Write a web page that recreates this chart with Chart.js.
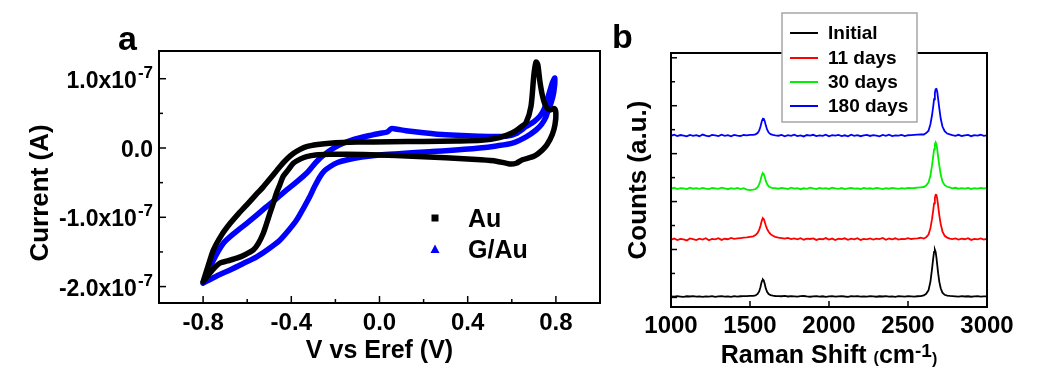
<!DOCTYPE html>
<html><head><meta charset="utf-8">
<script src="https://cdn.jsdelivr.net/npm/chart.js@4.4.0/dist/chart.umd.min.js"></script>
<style>
html,body{margin:0;padding:0;background:#fff;width:1050px;height:382px;overflow:hidden}
#ca{position:absolute;left:0;top:0}
#cb{position:absolute;left:604px;top:0}
</style></head><body>
<canvas id="ca" width="610" height="382"></canvas>
<canvas id="cb" width="446" height="382"></canvas>
<script>
// ---------- Panel a: cyclic voltammetry (current in units of 1e-7 A) ----------
const cvAuV = [-0.800,-0.775,-0.753,-0.715,-0.678,-0.640,-0.602,-0.565,-0.527,-0.490,-0.452,-0.420,-0.391,-0.360,-0.331,-0.280,-0.225,-0.100,0.050,0.200,0.350,0.460,0.544,0.603,0.640,0.665,0.687,0.700,0.710,0.718,0.727,0.740,0.755,0.775,0.793,0.800,0.796,0.784,0.760,0.738,0.700,0.648,0.620,0.590,0.530,0.460,0.300,0.150,0.000,-0.150,-0.225,-0.290,-0.331,-0.360,-0.391,-0.415,-0.437,-0.452,-0.467,-0.482,-0.497,-0.512,-0.527,-0.550,-0.572,-0.610,-0.647,-0.690,-0.723,-0.760,-0.800];
const cvAuI = [-1.93,-1.68,-1.47,-1.25,-1.09,-0.95,-0.82,-0.69,-0.56,-0.42,-0.27,-0.16,-0.08,-0.02,0.02,0.05,0.07,0.085,0.09,0.095,0.10,0.11,0.15,0.22,0.30,0.37,0.60,1.05,1.24,1.20,0.97,0.74,0.60,0.55,0.57,0.50,0.34,0.20,0.05,-0.03,-0.12,-0.17,-0.22,-0.23,-0.19,-0.17,-0.14,-0.12,-0.10,-0.09,-0.09,-0.10,-0.125,-0.16,-0.22,-0.32,-0.41,-0.53,-0.65,-0.80,-0.94,-1.09,-1.23,-1.38,-1.47,-1.54,-1.59,-1.63,-1.66,-1.77,-1.93];
const cvGAuV = [-0.800,-0.755,-0.708,-0.655,-0.602,-0.557,-0.512,-0.467,-0.421,-0.376,-0.331,-0.300,-0.270,-0.240,-0.210,-0.170,-0.120,-0.060,0.000,0.035,0.054,0.080,0.120,0.200,0.300,0.450,0.574,0.620,0.665,0.700,0.725,0.745,0.760,0.775,0.784,0.795,0.790,0.778,0.765,0.755,0.735,0.710,0.665,0.603,0.530,0.453,0.300,0.227,0.100,0.000,-0.080,-0.150,-0.190,-0.225,-0.250,-0.270,-0.295,-0.316,-0.345,-0.376,-0.410,-0.452,-0.505,-0.557,-0.620,-0.678,-0.740,-0.800];
const cvGAuI = [-1.95,-1.63,-1.375,-1.22,-1.087,-0.97,-0.847,-0.73,-0.606,-0.49,-0.365,-0.25,-0.149,-0.07,-0.004,0.06,0.12,0.17,0.21,0.23,0.28,0.27,0.25,0.22,0.19,0.17,0.17,0.21,0.31,0.38,0.45,0.55,0.69,0.85,0.94,1.01,0.80,0.65,0.55,0.45,0.34,0.26,0.16,0.07,0.03,0.00,-0.04,-0.053,-0.08,-0.10,-0.13,-0.173,-0.21,-0.27,-0.33,-0.414,-0.56,-0.70,-0.87,-1.04,-1.18,-1.33,-1.46,-1.57,-1.67,-1.76,-1.85,-1.95];
const cvXMajor = [-0.8,-0.4,0,0.4,0.8];
const cvXLabels = ['-0.8','-0.4','0.0','0.4','0.8'];
const cvXMinor = [-0.6,-0.2,0.2,0.6];
const cvYMajor = [1,0,-1,-2];
const cvYLabels = ['1.0x10','0.0','-1.0x10','-2.0x10'];
const cvYSup = ['-7','','-7','-7'];
const cvYMinor = [0.5,-0.5,-1.5];
const cvSeries = ['Au','G/Au'];

// ---------- Panel b: Raman spectra (offset counts) ----------
const ramanShift = [1000,1020,1040,1060,1080,1100,1120,1140,1160,1180,1200,1220,1240,1260,1280,1300,1320,1340,1360,1380,1400,1420,1440,1460,1480,1500,
 1520,1535,1548,1558,1566,1572,1577,1582,1587,1593,1600,1608,1618,1630,1645,1660,
 1680,1700,1720,1740,1760,1780,1800,1820,1840,1860,1880,1900,1920,1940,1960,1980,2000,2020,2040,2060,2080,2100,2120,2140,2160,2180,2200,2220,2240,2260,2280,2300,2320,2340,2360,2380,2400,2420,2440,2460,2480,2500,2520,2540,2560,2580,
 2600,2615,2630,2642,2652,2659,2665,2670,2675,2680,2685,2691,2698,2707,2718,2732,2748,2765,
 2780,2800,2820,2840,2860,2880,2900,2920,2940,2960,2980,3000];
const countsInitial = [22,14,25,18,12,24,19,27,15,21,10,23,17,26,13,20,28,16,22,11,25,18,24,27,29,32,
 33,41,72,125,212,300,352,370,352,286,188,118,72,48,38,30,
 28,24,31,19,26,22,17,25,29,20,14,23,27,18,24,12,21,26,16,23,28,19,13,25,20,27,15,22,18,26,21,14,24,19,28,17,23,12,25,20,16,27,22,18,24,26,
 40,75,150,330,590,800,950,996,950,830,680,500,330,190,100,55,38,30,
 28,22,17,25,19,24,14,21,26,18,23,20];
const countsDay11 = [1205,1228,1196,1222,1210,1189,1231,1215,1198,1226,1206,1234,1192,1220,1212,1236,1200,1224,1214,1240,1222,1230,1238,1246,1252,1265,
 1275,1300,1345,1410,1490,1570,1628,1650,1635,1580,1500,1430,1370,1320,1285,1262,
 1248,1236,1225,1240,1218,1230,1212,1235,1204,1226,1219,1232,1200,1222,1214,1238,1206,1228,1197,1224,1216,1233,1202,1227,1210,1236,1199,1221,1213,1230,1205,1225,1218,1240,1203,1229,1211,1234,1207,1223,1215,1237,1219,1228,1232,1245,
 1229,1257,1313,1445,1633,1802,1962,2075,2141,2136,2056,1906,1718,1530,1379,1285,1248,1229,
 1218,1232,1205,1226,1214,1236,1200,1222,1211,1230,1208,1225];
const countsDay30 = [2270,2288,2262,2281,2275,2259,2290,2268,2279,2264,2285,2271,2260,2283,2276,2266,2289,2273,2258,2280,2267,2284,2262,2278,2248,2238,
 2248,2262,2300,2360,2440,2520,2570,2590,2575,2520,2430,2365,2318,2295,2280,2282,
 2268,2285,2274,2262,2289,2271,2280,2258,2277,2266,2291,2273,2261,2284,2270,2279,2263,2288,2275,2267,2282,2259,2276,2286,2269,2274,2262,2283,2271,2278,2265,2287,2273,2261,2280,2268,2284,2276,2264,2281,2270,2286,2279,2283,2290,2298,
 2304,2333,2400,2544,2755,2928,3091,3197,3236,3197,3091,2928,2755,2563,2419,2342,2309,2294,
 2276,2288,2268,2281,2272,2285,2263,2279,2270,2284,2274,2280];
const countsDay180 = [3372,3395,3366,3388,3378,3360,3392,3370,3385,3364,3398,3375,3361,3390,3379,3367,3394,3373,3386,3362,3391,3376,3368,3389,3380,3392,
 3392,3402,3430,3480,3560,3640,3700,3730,3728,3680,3590,3505,3440,3405,3390,3382,
 3374,3391,3363,3384,3370,3396,3366,3381,3359,3388,3377,3393,3365,3382,3371,3397,3362,3386,3375,3390,3368,3383,3361,3394,3373,3387,3364,3380,3392,3369,3385,3376,3360,3389,3372,3395,3367,3382,3378,3391,3366,3384,3388,3393,3398,3402,
 3400,3429,3478,3615,3801,3968,4135,4262,4345,4350,4291,4135,3948,3733,3566,3468,3419,3400,
 3386,3372,3393,3368,3381,3390,3364,3385,3376,3394,3370,3383];
const ramanLabels = ['Initial','11 days','30 days','180 days'];
const ramanColors = ['#000000','#ff0000','#00f000','#0000ff'];
const ramanXMajor = [1000,1500,2000,2500,3000];
const ramanXLabels = ['1000','1500','2000','2500','3000'];
const ramanYMajor = [0,1000,2000,3000,4000,5000];
const ramanYMinor = [500,1500,2500,3500,4500];

// ---------- helpers ----------
const FONT = '"Liberation Sans", Arial, Helvetica, sans-serif';
const bf = px => 'bold ' + px + 'px ' + FONT;
function seg(ctx, x1, y1, x2, y2) { ctx.beginPath(); ctx.moveTo(x1, y1); ctx.lineTo(x2, y2); ctx.stroke(); }
const pts = (xs, ys) => xs.map((v, i) => ({ x: v, y: ys[i] }));

// ---------- Panel a chart ----------
const panelAPlugin = {
  id: 'panelA',
  afterDatasetsDraw(chart) {
    const ctx = chart.ctx, a = chart.chartArea, x = chart.scales.x, y = chart.scales.y;
    ctx.save();
    ctx.strokeStyle = '#000'; ctx.fillStyle = '#000';
    ctx.lineWidth = 2;
    ctx.strokeRect(a.left, a.top, a.right - a.left, a.bottom - a.top);
    ctx.lineWidth = 1.5;
    cvXMajor.forEach(v => { const p = x.getPixelForValue(v); seg(ctx, p, a.bottom, p, a.bottom - 7); });
    cvXMinor.forEach(v => { const p = x.getPixelForValue(v); seg(ctx, p, a.bottom, p, a.bottom - 4); });
    cvYMajor.forEach(v => { const p = y.getPixelForValue(v); seg(ctx, a.left, p, a.left + 7, p); });
    cvYMinor.forEach(v => { const p = y.getPixelForValue(v); seg(ctx, a.left, p, a.left + 4, p); });
    ctx.font = bf(24); ctx.textAlign = 'center'; ctx.textBaseline = 'alphabetic';
    cvXMajor.forEach((v, i) => ctx.fillText(cvXLabels[i], x.getPixelForValue(v), 330));
    const right = a.left - 6;
    cvYMajor.forEach((v, i) => {
      const p = y.getPixelForValue(v);
      let sw = 0;
      if (cvYSup[i]) { ctx.font = bf(17); sw = ctx.measureText(cvYSup[i]).width + 1; }
      ctx.font = bf(23); ctx.textAlign = 'right';
      ctx.fillText(cvYLabels[i], right - sw, p + 9);
      if (cvYSup[i]) { ctx.font = bf(17); ctx.textAlign = 'left'; ctx.fillText(cvYSup[i], right - sw + 1, p - 1); }
    });
    ctx.font = bf(25); ctx.textAlign = 'center';
    ctx.fillText('V vs Eref (V)', (a.left + a.right) / 2, 358);
    ctx.save(); ctx.translate(41, 193); ctx.rotate(-Math.PI / 2);
    ctx.font = bf(26); ctx.textBaseline = 'middle'; ctx.fillText('Current (A)', 0, 0); ctx.restore();
    ctx.font = bf(34); ctx.textAlign = 'left'; ctx.textBaseline = 'alphabetic';
    ctx.fillText('a', 118, 50);
    const ds = chart.data.datasets;
    ctx.fillStyle = ds[0].borderColor; ctx.fillRect(431.5, 214.5, 7, 7);
    ctx.fillStyle = ds[1].borderColor; ctx.beginPath(); ctx.moveTo(435, 244.5); ctx.lineTo(439.5, 253); ctx.lineTo(430.5, 253); ctx.closePath(); ctx.fill();
    ctx.fillStyle = '#000'; ctx.font = bf(25); ctx.textAlign = 'left';
    ctx.fillText(ds[0].label, 468, 227);
    ctx.fillText(ds[1].label, 468, 258);
    ctx.restore();
  }
};

new Chart(document.getElementById('ca'), {
  type: 'scatter',
  data: {
    datasets: [
      { label: cvSeries[0], data: pts(cvAuV, cvAuI), showLine: true, borderColor: '#000000', backgroundColor: '#000000', borderWidth: 5.5, pointRadius: 0, tension: 0.25, borderJoinStyle: 'round', borderCapStyle: 'round' },
      { label: cvSeries[1], data: pts(cvGAuV, cvGAuI), showLine: true, borderColor: '#0000ff', backgroundColor: '#0000ff', borderWidth: 5.5, pointRadius: 0, tension: 0.25, borderJoinStyle: 'round', borderCapStyle: 'round' }
    ]
  },
  options: {
    responsive: false, animation: false, events: [],
    layout: { padding: { left: 159, right: 10, top: 51, bottom: 79 } },
    scales: {
      x: { type: 'linear', min: -1.0, max: 1.0, display: false },
      y: { type: 'linear', min: -2.237, max: 1.40, display: false }
    },
    plugins: { legend: { display: false }, tooltip: { enabled: false } }
  },
  plugins: [panelAPlugin]
});

// ---------- Panel b chart ----------
const panelBPlugin = {
  id: 'panelB',
  afterDatasetsDraw(chart) {
    const ctx = chart.ctx, a = chart.chartArea, x = chart.scales.x, y = chart.scales.y;
    ctx.save();
    ctx.strokeStyle = '#000'; ctx.fillStyle = '#000';
    ctx.lineWidth = 2;
    ctx.strokeRect(a.left, a.top, a.right - a.left, a.bottom - a.top);
    ctx.lineWidth = 1.5;
    ramanXMajor.forEach(v => { const p = x.getPixelForValue(v); seg(ctx, p, a.bottom, p, a.bottom - 6); });
    ramanYMajor.forEach(v => { const p = y.getPixelForValue(v); seg(ctx, a.left, p, a.left + 6, p); });
    ramanYMinor.forEach(v => { const p = y.getPixelForValue(v); seg(ctx, a.left, p, a.left + 4, p); });
    ctx.font = bf(24); ctx.textAlign = 'center'; ctx.textBaseline = 'alphabetic';
    ramanXMajor.forEach((v, i) => ctx.fillText(ramanXLabels[i], x.getPixelForValue(v), 333));
    const parts = [['Raman Shift ', 25, 0], ['(', 16, 0], ['cm', 25, 0], ['-1', 19, -6], [')', 16, 1]];
    let tw = 0; parts.forEach(p => { ctx.font = bf(p[1]); tw += ctx.measureText(p[0]).width; });
    let cx = (a.left + a.right) / 2 - tw / 2; ctx.textAlign = 'left';
    parts.forEach(p => { ctx.font = bf(p[1]); ctx.fillText(p[0], cx, 363 + p[2]); cx += ctx.measureText(p[0]).width; });
    ctx.save(); ctx.translate(35, 180); ctx.rotate(-Math.PI / 2);
    ctx.font = bf(26); ctx.textAlign = 'center'; ctx.textBaseline = 'middle'; ctx.fillText('Counts (a.u.)', 0, 0); ctx.restore();
    ctx.font = bf(34); ctx.textAlign = 'left'; ctx.fillText('b', 8, 48);
    const lx = 178, ly = 13, lw = 135, lh = 109;
    ctx.fillStyle = '#fff'; ctx.fillRect(lx, ly, lw, lh);
    ctx.strokeStyle = '#a6a6a6'; ctx.lineWidth = 1.5; ctx.strokeRect(lx, ly, lw, lh);
    const rows = [32, 57, 81, 105];
    chart.data.datasets.forEach((d, i) => {
      ctx.strokeStyle = d.borderColor; ctx.lineWidth = 2;
      seg(ctx, 186, rows[i] + 1, 214, rows[i] + 1);
      ctx.fillStyle = '#000'; ctx.font = bf(19); ctx.textBaseline = 'alphabetic';
      ctx.fillText(d.label, 224, rows[i] + 7);
    });
    ctx.restore();
  }
};

const ramanSeries = [countsInitial, countsDay11, countsDay30, countsDay180];
new Chart(document.getElementById('cb'), {
  type: 'scatter',
  data: {
    datasets: ramanSeries.map((s, i) => ({
      label: ramanLabels[i], data: pts(ramanShift, s), showLine: true,
      borderColor: ramanColors[i], backgroundColor: ramanColors[i],
      borderWidth: 1.8, pointRadius: 0, tension: 0
    }))
  },
  options: {
    responsive: false, animation: false, events: [],
    layout: { padding: { left: 67, right: 63, top: 53, bottom: 75 } },
    scales: {
      x: { type: 'linear', min: 1000, max: 3000, display: false },
      y: { type: 'linear', min: -200, max: 5100, display: false }
    },
    plugins: { legend: { display: false }, tooltip: { enabled: false } }
  },
  plugins: [panelBPlugin]
});
</script>
</body></html>
